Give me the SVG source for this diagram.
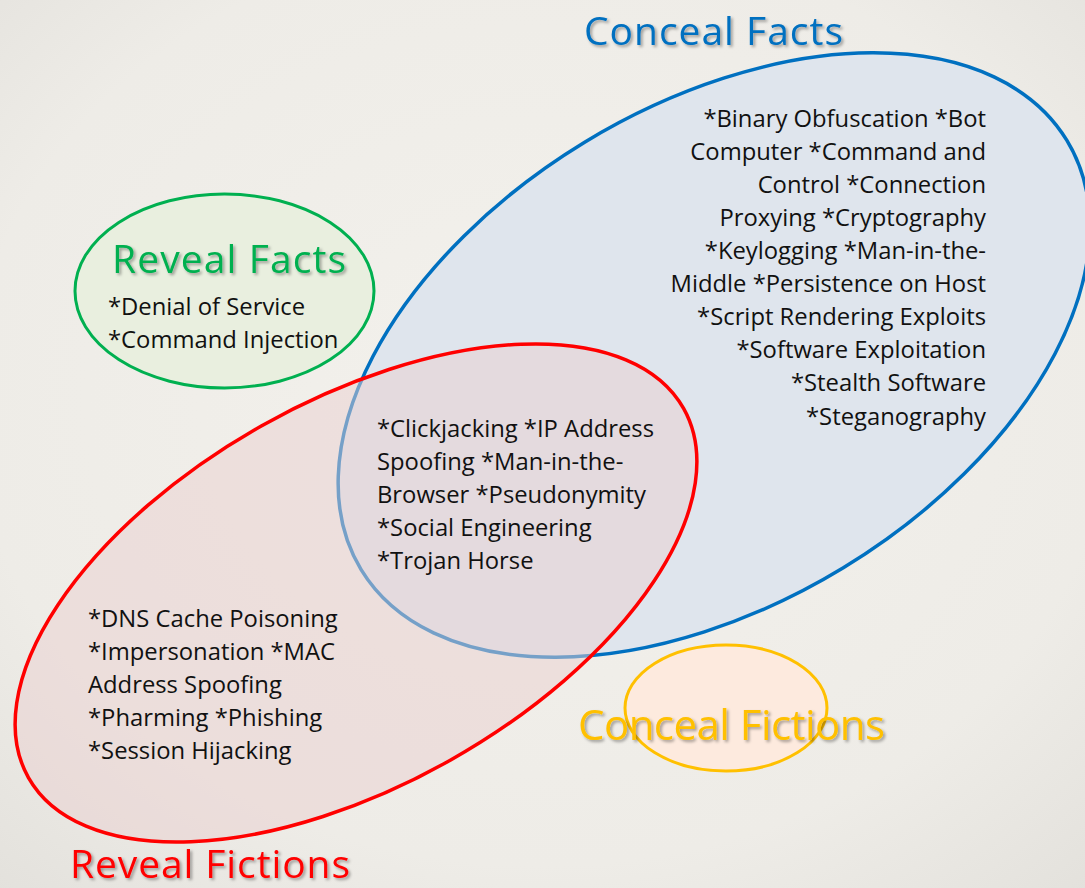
<svg xmlns="http://www.w3.org/2000/svg" width="1085" height="888" viewBox="0 0 1085 888">
  <defs>
    <radialGradient id="bg" cx="50%" cy="45%" r="75%">
      <stop offset="0" stop-color="#f3f1ec"/>
      <stop offset="0.7" stop-color="#eeece7"/>
      <stop offset="1" stop-color="#e3e1dc"/>
    </radialGradient>
    <filter id="shadow" x="-10%" y="-30%" width="120%" height="160%">
      <feDropShadow dx="2" dy="2" stdDeviation="1.5" flood-color="#000" flood-opacity="0.35"/>
    </filter>
  </defs>
  <style>
    .title { font-family: "Open Sans", "Liberation Sans", sans-serif; font-size: 39px; }
    .big { font-size: 42px; }
    .body { font-family: "Open Sans", "Liberation Sans", sans-serif; font-size: 23.8px; fill: #111111; }
    .right { text-anchor: end; }
  </style>
  <rect x="0" y="0" width="1085" height="888" fill="url(#bg)"/>

  <g id="reveal-facts">
    <ellipse cx="224.5" cy="291" rx="149.5" ry="97" fill="#e9efdf" stroke="#00b050" stroke-width="3"/>
    <text class="title" x="112" y="273" fill="#00b050" filter="url(#shadow)" textLength="234">Reveal Facts</text>
    <text class="body" x="108" y="315">*Denial of Service</text>
    <text class="body" x="108" y="348">*Command Injection</text>
  </g>

  <g id="conceal-facts">
    <ellipse cx="714" cy="355" rx="413" ry="249" transform="rotate(-31.3 714 355)" fill="#dfe5ed" stroke="#0070c0" stroke-width="3.5"/>
    <text class="title" x="584" y="45" fill="#0070c0" filter="url(#shadow)" textLength="259">Conceal Facts</text>
    <text class="body right" x="986" y="127">*Binary Obfuscation *Bot</text>
    <text class="body right" x="986" y="160">Computer *Command and</text>
    <text class="body right" x="986" y="193">Control *Connection</text>
    <text class="body right" x="986" y="226">Proxying *Cryptography</text>
    <text class="body right" x="986" y="259">*Keylogging *Man-in-the-</text>
    <text class="body right" x="986" y="292">Middle *Persistence on Host</text>
    <text class="body right" x="986" y="325">*Script Rendering Exploits</text>
    <text class="body right" x="986" y="358">*Software Exploitation</text>
    <text class="body right" x="986" y="391">*Stealth Software</text>
    <text class="body right" x="986" y="425">*Steganography</text>
  </g>

  <g id="reveal-fictions">
    <ellipse cx="356" cy="593" rx="376" ry="192" transform="rotate(-29.4 356 593)" fill="#e9d0d0" fill-opacity="0.5" stroke="#ff0000" stroke-width="3.5"/>
    <text class="title" x="70" y="878" fill="#ff0000" filter="url(#shadow)" textLength="280">Reveal Fictions</text>
    <text class="body" x="88" y="627">*DNS Cache Poisoning</text>
    <text class="body" x="88" y="660">*Impersonation  *MAC</text>
    <text class="body" x="88" y="693">Address Spoofing</text>
    <text class="body" x="88" y="726">*Pharming *Phishing</text>
    <text class="body" x="88" y="759">*Session Hijacking</text>
  </g>

  <g id="overlap-facts-fictions">
    <text class="body" x="377" y="437">*Clickjacking *IP Address</text>
    <text class="body" x="377" y="470">Spoofing *Man-in-the-</text>
    <text class="body" x="377" y="503">Browser  *Pseudonymity</text>
    <text class="body" x="377" y="536">*Social Engineering</text>
    <text class="body" x="377" y="569">*Trojan Horse</text>
  </g>

  <g id="conceal-fictions">
    <ellipse cx="726" cy="708" rx="101" ry="63" fill="#fdeade" stroke="#ffc000" stroke-width="3"/>
    <text class="title big" x="578" y="740" fill="#ffc000" filter="url(#shadow)" textLength="307">Conceal Fictions</text>
  </g>

  <g id="connectors"></g>
</svg>
